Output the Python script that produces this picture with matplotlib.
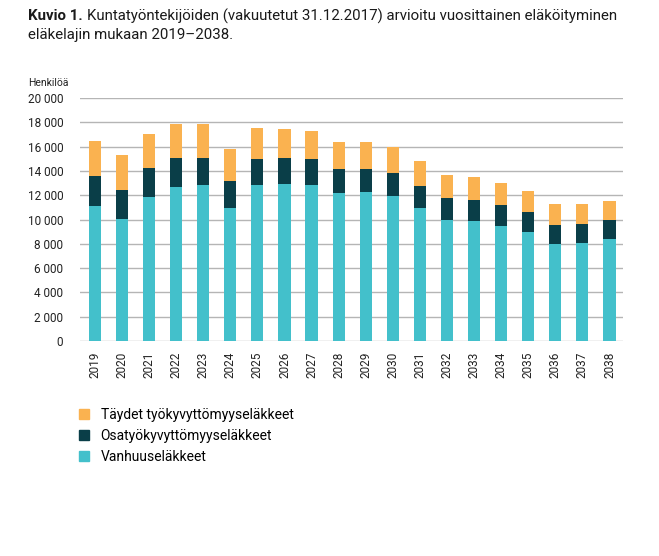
import matplotlib
matplotlib.use("Agg")
import matplotlib.pyplot as plt
from matplotlib.lines import Line2D
import numpy as np

plt.rcParams['font.family'] = ['Roboto', 'DejaVu Sans']

years = [str(y) for y in range(2019, 2039)]
vanhuus = [11150, 10050, 11870, 12690, 12860, 10960, 12860, 12940, 12860, 12200,
           12280, 11950, 10960, 9970, 9890, 9480, 8980, 7990, 8080, 8410]
osa = [2450, 2400, 2390, 2390, 2220, 2230, 2140, 2140, 2140, 1980,
       1900, 1900, 1810, 1820, 1730, 1730, 1650, 1570, 1560, 1560]
taydet = [2880, 2880, 2800, 2750, 2750, 2580, 2550, 2390, 2310, 2220,
          2220, 2140, 2070, 1890, 1900, 1810, 1730, 1730, 1650, 1570]

series_labels = ["Täydet työkyvyttömyyseläkkeet", "Osatyökyvyttömyyseläkkeet", "Vanhuuseläkkeet"]
yticks = [0, 2000, 4000, 6000, 8000, 10000, 12000, 14000, 16000, 18000, 20000]
ytick_labels = ["0", "2 000", "4 000", "6 000", "8 000", "10 000", "12 000",
                "14 000", "16 000", "18 000", "20 000"]

c_teal = "#43C0CB"
c_dark = "#0A3E48"
c_orange = "#FAB250"

fig = plt.figure(figsize=(6.59, 5.56), dpi=100)
ax = fig.add_axes([0.1214, 0.3867, 0.824, 0.437])

x = np.arange(len(years))
w = 0.45
v = np.array(vanhuus); o = np.array(osa); t = np.array(taydet)
ax.bar(x, v, w, color=c_teal, zorder=3)
ax.bar(x, o, w, bottom=v, color=c_dark, zorder=3)
ax.bar(x, t, w, bottom=v + o, color=c_orange, zorder=3)

ax.set_ylim(0, 20000)
ax.set_xlim(-0.55, len(years) - 0.5)
ax.set_yticks(yticks)
ax.set_yticklabels(ytick_labels, fontsize=8.5, color="#222222")
ax.set_xticks(x)
ax.set_xticklabels(years, rotation=90, fontsize=8.5, color="#222222")
ax.tick_params(axis='both', length=0)
ax.tick_params(axis='y', pad=12)
ax.tick_params(axis='x', pad=8)
ax.grid(axis='y', color="#b5b5b5", linewidth=1.0, zorder=0)
for s in ax.spines.values():
    s.set_visible(False)

fig.text(28 / 659, 1 - 83 / 556, "Henkilöä", fontsize=7.5, color="#222222", va='center', ha='left')

# Title
fig.canvas.draw()
renderer = fig.canvas.get_renderer()
t1 = fig.text(28 / 659, 1 - 16 / 556, "Kuvio 1.", fontsize=10.8, fontweight='bold',
              color="#1a1a1a", va='center', ha='left')
bb = t1.get_window_extent(renderer=renderer)
x2 = (bb.x1 + 4) / fig.bbox.width
fig.text(x2, 1 - 16 / 556, "Kuntatyöntekijöiden (vakuutetut 31.12.2017) arvioitu vuosittainen eläköityminen",
         fontsize=10.8, color="#1a1a1a", va='center', ha='left')
fig.text(28 / 659, 1 - 35 / 556, "eläkelajin mukaan 2019–2038.", fontsize=10.8,
         color="#1a1a1a", va='center', ha='left')

handles = [Line2D([], [], marker='s', linestyle='none', markersize=7.5, color=c)
           for c in (c_orange, c_dark, c_teal)]
fig.legend(handles, series_labels, loc='upper left', bbox_to_anchor=(77 / 659, 1 - 408 / 556),
           frameon=False, fontsize=10, handletextpad=0.7, labelspacing=0.5,
           handlelength=1.0, borderaxespad=0, borderpad=0)

fig.savefig("out.png", dpi=100)
